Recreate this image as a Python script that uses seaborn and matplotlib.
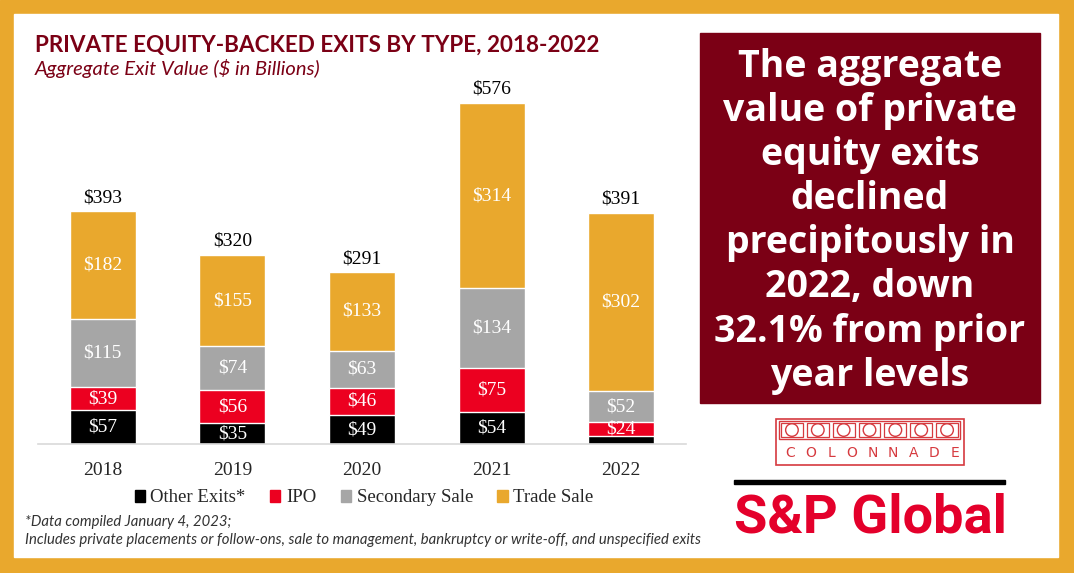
import matplotlib
matplotlib.use("Agg")
import matplotlib.pyplot as plt
import seaborn as sns
import numpy as np
import pandas as pd
from matplotlib.patches import Rectangle, Circle

years = ["2018", "2019", "2020", "2021", "2022"]
other_exits = [57, 35, 49, 54, 13]
ipo = [39, 56, 46, 75, 24]
secondary_sale = [115, 74, 63, 134, 52]
trade_sale = [182, 155, 133, 314, 302]
totals = [393, 320, 291, 576, 391]
show_other_label = [True, True, True, True, False]

series_names = ["Other Exits*", "IPO", "Secondary Sale", "Trade Sale"]
series_vals = [other_exits, ipo, secondary_sale, trade_sale]
colors = ["#000000", "#EC0020", "#A6A6A6", "#E9A82D"]

ORANGE = "#E9A82D"
MAROON = "#7B0015"

sns.set_theme(style="white")
plt.rcParams["font.family"] = ["Liberation Serif", "DejaVu Sans"]

fig = plt.figure(figsize=(10.74, 5.73), dpi=100)
W, H = 1074, 573

def fx(x):
    return x / W

def fy(y):
    return 1 - y / H

# pixel-coordinate overlay axes for decorations (background)
bg = fig.add_axes([0, 0, 1, 1], zorder=-5)
bg.set_xlim(0, W)
bg.set_ylim(H, 0)
bg.axis("off")
bg.add_patch(Rectangle((0, 0), W, H, color=ORANGE))
bg.add_patch(Rectangle((14, 14), 1058 - 14, 557 - 14, color="white"))
bg.add_patch(Rectangle((700, 33), 1040 - 700, 403 - 33, color=MAROON))

ax = fig.add_axes([fx(38), fy(444), fx(686 - 38), (444 - 89) / H])
ax.set_facecolor("none")

df = pd.DataFrame({"Year": years})
cum = np.zeros(len(years))
cums = []
for vals in series_vals:
    cum = cum + np.array(vals)
    cums.append(cum.copy())

for i in range(len(series_vals) - 1, -1, -1):
    d = df.copy()
    d["v"] = cums[i]
    sns.barplot(data=d, x="Year", y="v", color=colors[i], width=0.51,
                saturation=1, ax=ax, zorder=2)

ax.set_xlim(-0.5, 4.5)
ax.set_ylim(0, 600)
ax.set_xlabel("")
ax.set_ylabel("")
ax.set_yticks([])
ax.tick_params(axis="x", length=0, pad=13, labelsize=14)
for lab in ax.get_xticklabels():
    lab.set_fontfamily("Liberation Serif")
for s in ["top", "right", "left"]:
    ax.spines[s].set_visible(False)
ax.spines["bottom"].set_color("#D9D9D9")
ax.spines["bottom"].set_linewidth(1.2)

for i, vals in enumerate(series_vals):
    for j, v in enumerate(vals):
        if i == 0 and not show_other_label[j]:
            continue
        base = cums[i][j] - v
        ax.text(j, base + v / 2, f"${v}", ha="center", va="center",
                color="white", fontsize=14, family="Liberation Serif", zorder=5)

for j, t in enumerate(totals):
    ax.text(j, cums[-1][j] + 8, f"${t}", ha="center", va="bottom",
            color="black", fontsize=14, family="Liberation Serif", zorder=5)

handles = [Rectangle((0, 0), 1, 1, color=c) for c in colors]
fig.legend(handles, series_names, loc="center", bbox_to_anchor=(fx(364), fy(498)),
           ncol=4, frameon=False, handlelength=0.55, handleheight=0.55,
           handletextpad=0.3, columnspacing=1.3,
           prop={"family": "Liberation Serif", "size": 13.5})

fig.text(fx(35), fy(45), "PRIVATE EQUITY-BACKED EXITS BY TYPE, 2018-2022",
         color=MAROON, fontsize=16.2, fontweight="bold", family="Lato", va="center")
fig.text(fx(35), fy(68), "Aggregate Exit Value ($ in Billions)",
         color=MAROON, fontsize=14.5, style="italic", family="Lato", va="center")

fig.text(fx(25), fy(522), "*Data compiled January 4, 2023;", color="#333333",
         fontsize=10.7, style="italic", family="Lato", va="center")
fig.text(fx(25), fy(540),
         "Includes private placements or follow-ons, sale to management, bankruptcy or write-off, and unspecified exits",
         color="#333333", fontsize=10.7, style="italic", family="Lato", va="center")

lines = ["The aggregate", "value of private", "equity exits", "declined",
         "precipitously in", "2022, down", "32.1% from prior", "year levels"]
for k, line in enumerate(lines):
    fig.text(fx(870), fy(67 + k * 44.1), line, color="white", fontsize=27,
             fontweight="bold", family="Open Sans", ha="center", va="center")

# Colonnade logo (pixel coordinates)
LRED = "#D63A3F"
bg.add_patch(Rectangle((776, 419), 964 - 776, 465 - 419, fill=False, edgecolor=LRED, linewidth=1.2))
bg.add_patch(Rectangle((779, 421), 960 - 779, 439 - 421, fill=False, edgecolor=LRED, linewidth=1.0))
bw = (960 - 779) / 7
for k in range(7):
    x0 = 779 + k * bw
    bg.add_patch(Rectangle((x0 + 2, 423), bw - 4, 14, fill=False, edgecolor=LRED, linewidth=0.9))
    bg.add_patch(Circle((x0 + bw / 2, 430), 6.3, fill=False, edgecolor=LRED, linewidth=1.0))
for k, ch in enumerate("COLONNADE"):
    bg.text(790 + k * 20.6, 453, ch, color=LRED, fontsize=10,
            family="DejaVu Sans", ha="center", va="center")

bg.add_patch(Rectangle((734, 480), 1005 - 734, 4, color="black"))
fig.text(fx(870), fy(518), "S&P Global", color="#E4002B", fontsize=39, fontweight="bold",
         family="Roboto", ha="center", va="center")

fig.savefig("out.png", dpi=100)
